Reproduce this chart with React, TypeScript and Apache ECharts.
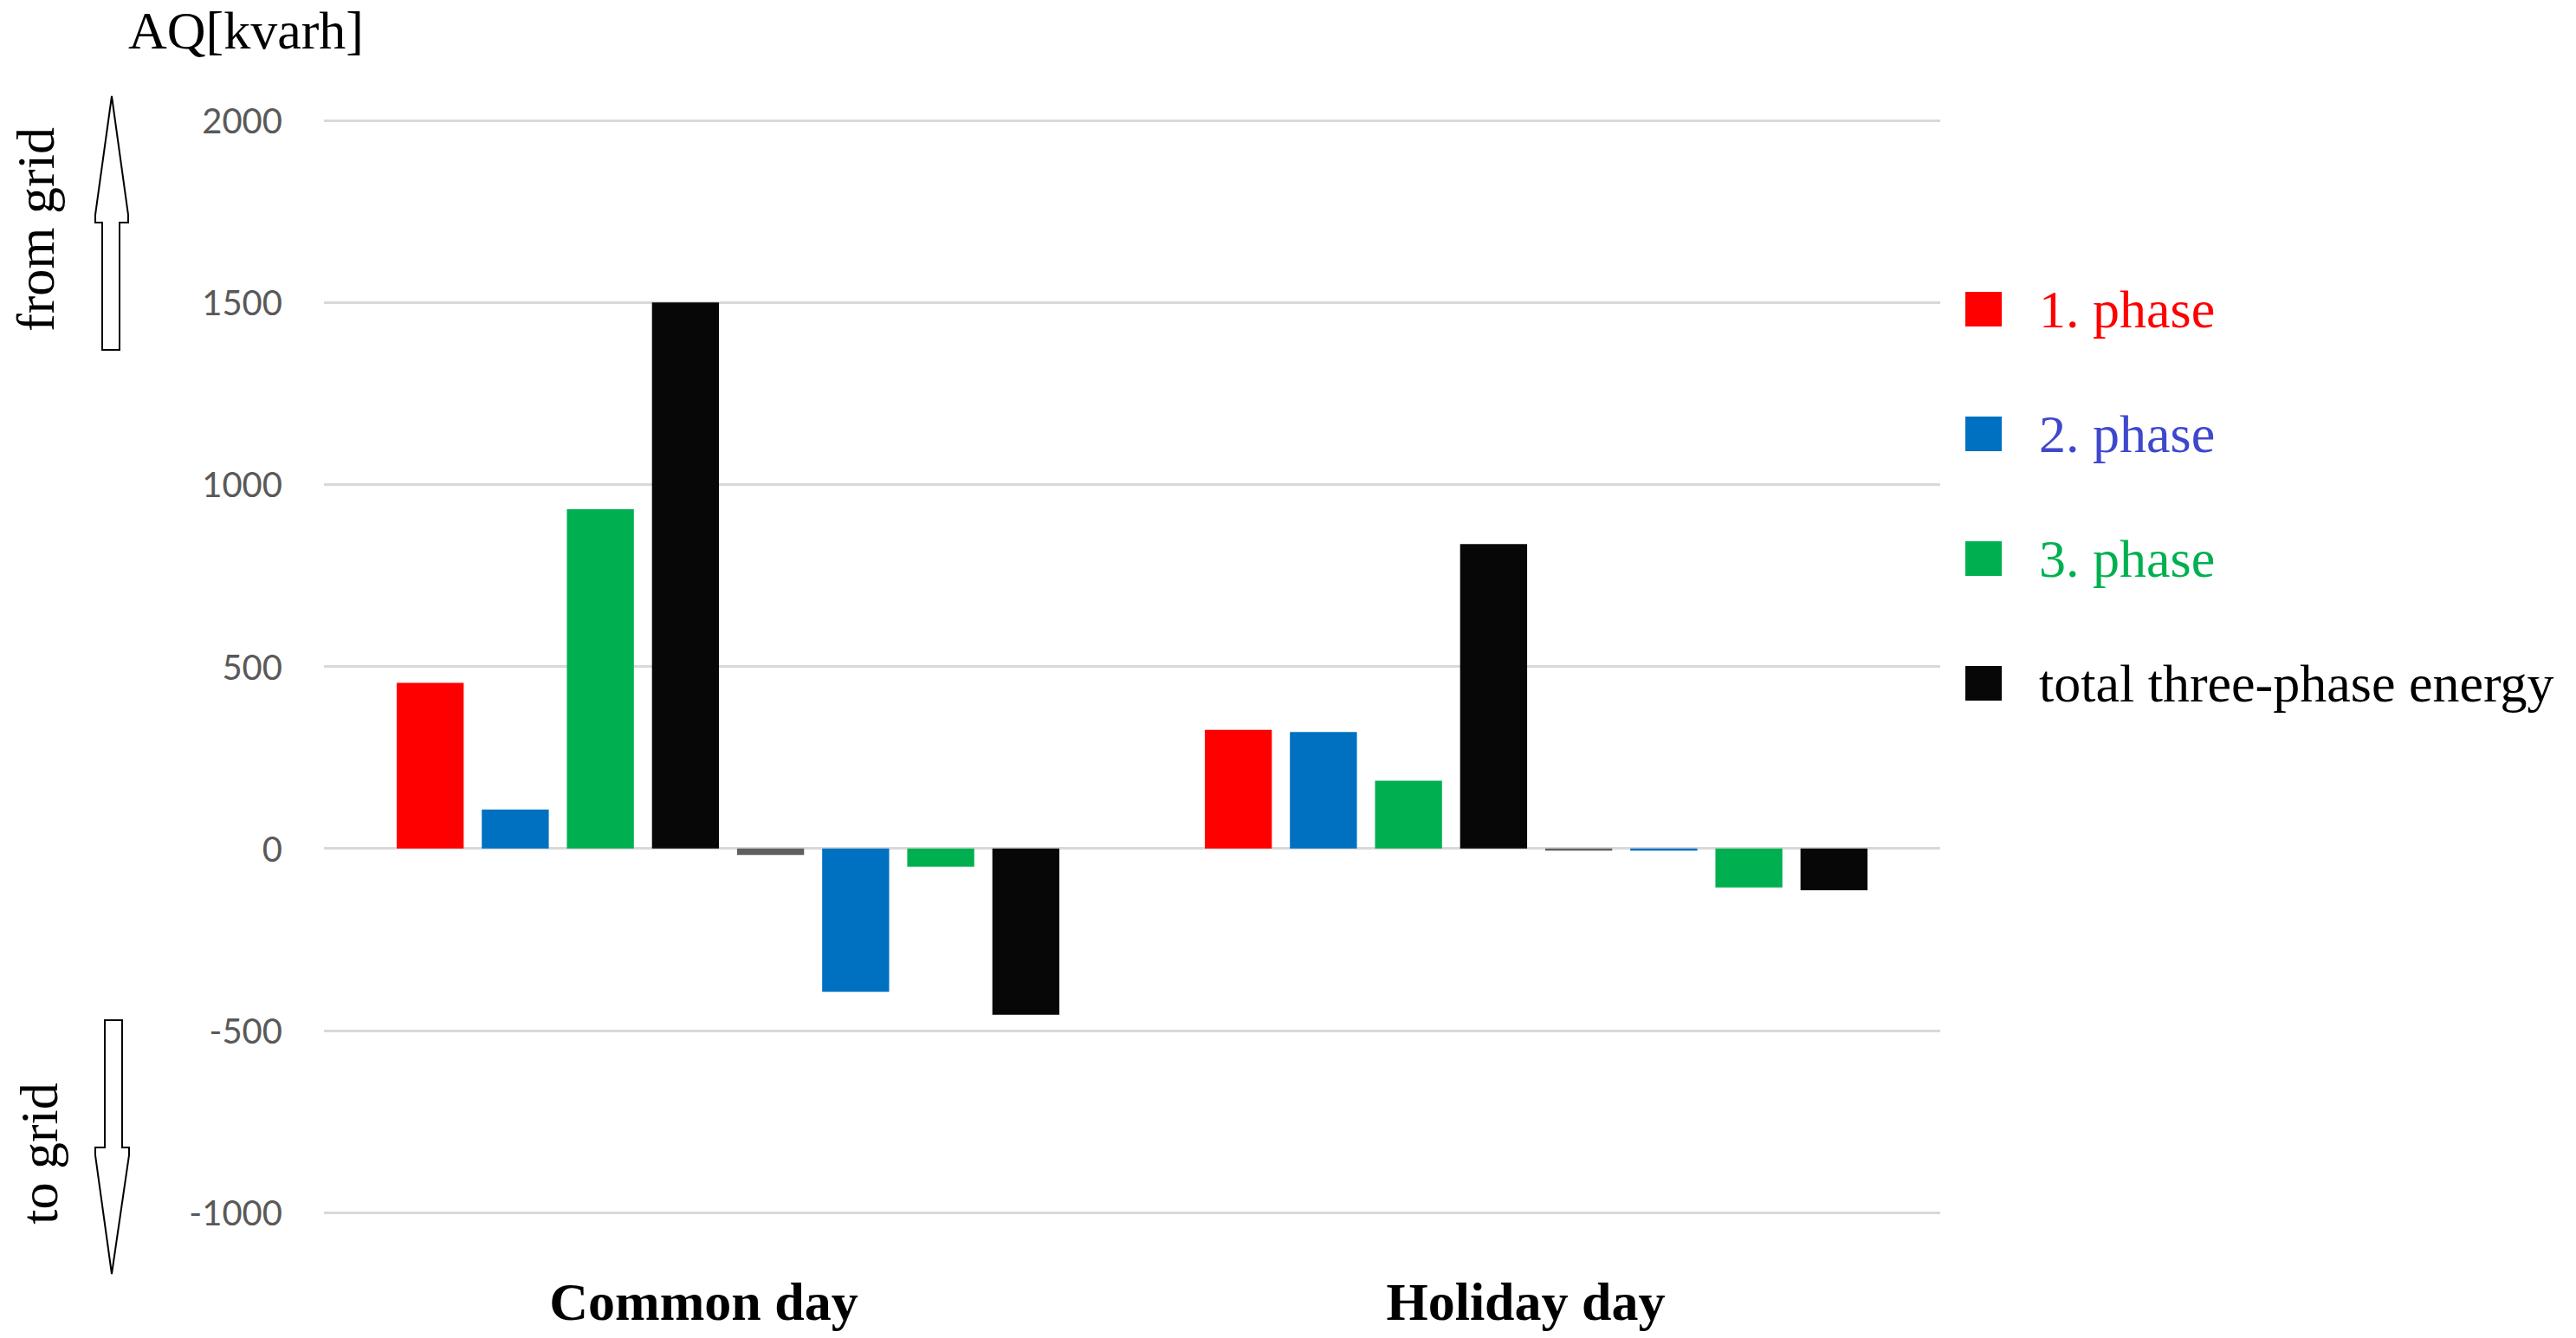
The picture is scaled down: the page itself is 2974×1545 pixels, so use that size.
import React, { useEffect, useRef } from "react";
import * as echarts from "echarts";

// ---- data ----
const categories = ["Common day", "Holiday day"];
const seriesNames = ["1. phase", "2. phase", "3. phase", "total three-phase energy"];
// energy taken from the grid (positive)
const phase1From = [455, 326];
const phase2From = [107, 320];
const phase3From = [932, 186];
const totalFrom = [1500, 836];
// energy delivered to the grid (negative)
const phase1To = [-18, -6];
const phase2To = [-394, -6];
const phase3To = [-50, -107];
const totalTo = [-457, -115];

const yMin = -1000;
const yMax = 2000;
const yStep = 500;

const posColors = ["#ff0000", "#0070c0", "#00b050", "#070707"];
const negColors = ["#5f5f5f", "#0070c0", "#00b050", "#070707"];
const legendTextColors = ["#ff0000", "#3f48cc", "#00b050", "#000000"];
const categoryLabelShift = [56, 24];

const SERIF = "'Liberation Serif', 'Times New Roman', serif";

export default function App() {
  const ref = useRef<HTMLDivElement>(null);

  useEffect(() => {
    document.body.style.margin = "0";
    if (!ref.current) return;
    const chart = echarts.init(ref.current, undefined, { renderer: "svg" });

    const posData = [phase1From, phase2From, phase3From, totalFrom];
    const negData = [phase1To, phase2To, phase3To, totalTo];

    const series: any[] = [];
    posData.forEach((d, i) => {
      series.push({
        type: "bar",
        name: seriesNames[i],
        data: d,
        itemStyle: { color: posColors[i] },
        barGap: "27%",
        barCategoryGap: "18%",
      });
    });
    negData.forEach((d, i) => {
      series.push({
        type: "bar",
        name: seriesNames[i],
        data: d,
        itemStyle: { color: negColors[i] },
        barGap: "27%",
        barCategoryGap: "18%",
      });
    });

    const upArrow = [
      [129, 111],
      [148, 248],
      [148, 257],
      [138, 257],
      [138, 404],
      [118, 404],
      [118, 257],
      [110, 257],
      [110, 248],
    ];
    const downArrow = [
      [121, 1178],
      [141, 1178],
      [141, 1325],
      [149, 1325],
      [149, 1334],
      [129, 1471],
      [110, 1334],
      [110, 1325],
      [121, 1325],
    ];

    chart.setOption({
      animation: false,
      backgroundColor: "#ffffff",
      grid: { left: 374, right: 734, top: 139, bottom: 145, containLabel: false },
      legend: {
        orient: "vertical",
        left: 2264,
        top: 321,
        itemWidth: 42,
        itemHeight: 40,
        itemGap: 82,
        icon: "rect",
        selectedMode: false,
        textStyle: { fontFamily: SERIF, fontSize: 62, padding: [0, 0, 0, 38] },
        data: seriesNames.map((n, i) => ({
          name: n,
          textStyle: { color: legendTextColors[i] },
        })),
      },
      xAxis: {
        type: "category",
        data: categories.map((c, i) => ({
          value: c,
          textStyle: { padding: [0, categoryLabelShift[i], 0, 0] },
        })),
        position: "bottom",
        axisLine: { show: false },
        axisTick: { show: false },
        axisLabel: {
          margin: 72,
          fontFamily: SERIF,
          fontWeight: "bold",
          fontSize: 62,
          color: "#000000",
        },
      },
      yAxis: {
        type: "value",
        min: yMin,
        max: yMax,
        interval: yStep,
        axisLine: { show: false },
        axisTick: { show: false },
        axisLabel: {
          margin: 48,
          fontFamily: "Lato, 'Liberation Sans', sans-serif",
          fontSize: 40,
          color: "#595959",
          formatter: (v: number) => String(v),
        },
        splitLine: { lineStyle: { color: "#d9d9d9", width: 3 } },
      },
      series,
      graphic: [
        {
          type: "text",
          left: 148,
          top: 4,
          style: { text: "AQ[kvarh]", font: `62px ${SERIF}`, fill: "#000000" },
        },
        {
          type: "text",
          x: 41,
          y: 265,
          rotation: Math.PI / 2,
          style: {
            text: "from grid",
            font: `62px ${SERIF}`,
            fill: "#000000",
            align: "center",
            verticalAlign: "middle",
          },
        },
        {
          type: "text",
          x: 45,
          y: 1332,
          rotation: Math.PI / 2,
          style: {
            text: "to grid",
            font: `62px ${SERIF}`,
            fill: "#000000",
            align: "center",
            verticalAlign: "middle",
          },
        },
        {
          type: "polygon",
          shape: { points: upArrow },
          style: { fill: "#ffffff", stroke: "#000000", lineWidth: 2 },
        },
        {
          type: "polygon",
          shape: { points: downArrow },
          style: { fill: "#ffffff", stroke: "#000000", lineWidth: 2 },
        },
      ],
    });

    return () => chart.dispose();
  }, []);

  return <div ref={ref} style={{ width: 2974, height: 1545 }} />;
}
